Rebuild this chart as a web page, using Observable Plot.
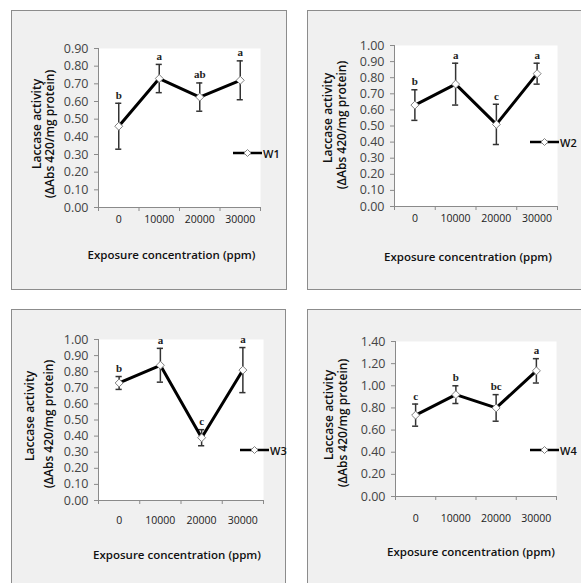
<!DOCTYPE html>
<html><head><meta charset="utf-8">
<script src="https://cdn.jsdelivr.net/npm/d3@7"></script>
<script src="https://cdn.jsdelivr.net/npm/@observablehq/plot@0.6"></script>
<style>
html,body{margin:0;padding:0;background:#fff;overflow:hidden;width:581px;height:583px;position:relative;}
.panel{position:absolute;box-sizing:border-box;border:1px solid #8c8c8c;background:#f0f0f0;overflow:hidden;}
.panel svg{display:block;}
.legend{position:absolute;display:flex;align-items:center;font:600 11px "Open Sans";color:#111;white-space:nowrap;}
</style></head><body>
<script>
// ---- data ----
const categories = ["0", "10000", "20000", "30000"];
const seriesNames = ["W1", "W2", "W3", "W4"];
const w1Mean = [0.46, 0.73, 0.625, 0.72];
const w1Err = [0.13, 0.08, 0.08, 0.11];
const w1Letters = ["b", "a", "ab", "a"];
const w2Mean = [0.63, 0.76, 0.51, 0.825];
const w2Err = [0.095, 0.13, 0.125, 0.065];
const w2Letters = ["b", "a", "c", "a"];
const w3Mean = [0.73, 0.84, 0.39, 0.81];
const w3Err = [0.04, 0.105, 0.05, 0.14];
const w3Letters = ["b", "a", "c", "a"];
const w4Mean = [0.735, 0.92, 0.80, 1.135];
const w4Err = [0.10, 0.08, 0.12, 0.11];
const w4Letters = ["c", "b", "bc", "a"];
const yMax = [0.9, 1.0, 1.0, 1.4];
const yStep = [0.1, 0.1, 0.1, 0.2];
const yLabel1 = "Laccase activity";
const yLabel2 = "(\u0394Abs 420/mg protein)";
const xLabel = "Exposure concentration (ppm)";

const means = [w1Mean, w2Mean, w3Mean, w4Mean];
const errs = [w1Err, w2Err, w3Err, w4Err];
const letters = [w1Letters, w2Letters, w3Letters, w4Letters];

// ---- layout (pixels) ----
const layout = [
  {box:{x:11,y:10,w:276,h:280}, plot:{l:98,t:48,r:260,b:207}, tickDy:8, titleDy:48, titleDx:-8, yl1:61, yl2:48, yd1:-4, yd2:6, leg:{x:233,y:153}},
  {box:{x:307,y:10,w:276,h:280}, plot:{l:394,t:45,r:557,b:206}, tickDy:8, titleDy:51, titleDx:-8, yl1:66, yl2:52, yd1:-8, yd2:-1, leg:{x:530,y:142}},
  {box:{x:11,y:309,w:275,h:285}, plot:{l:98,t:339,r:263,b:500}, tickDy:16, titleDy:55, titleDx:-4, yl1:68, yl2:49, yd1:-4, yd2:4, leg:{x:240,y:450}},
  {box:{x:307,y:309,w:276,h:285}, plot:{l:395,t:341,r:556,b:496}, tickDy:18, titleDy:56, titleDx:-5, yl1:66, yl2:52, yd1:-4, yd2:4, leg:{x:530,y:450}}
];

layout.forEach((L, k) => {
  const data = categories.map((c, i) => ({i, cat: c, v: means[k][i], e: errs[k][i], lab: letters[k][i]}));
  const n = categories.length;
  const bounds = d3.range(n + 1).map(i => i - 0.5);
  const nt = Math.round(yMax[k] / yStep[k]);
  const yTicks = d3.range(nt + 1).map(j => +(j * yStep[k]).toFixed(2));
  const W = L.box.w - 2, H = L.box.h - 2;
  const ox = L.box.x + 1, oy = L.box.y + 1;
  const cap = 0.075;
  const chart = Plot.plot({
    width: W, height: H,
    marginLeft: L.plot.l - ox, marginTop: L.plot.t - oy,
    marginRight: ox + W - L.plot.r, marginBottom: oy + H - L.plot.b,
    style: {background: "#f0f0f0", fontFamily: "Open Sans", overflow: "visible"},
    x: {domain: [bounds[0], bounds[n]], axis: null},
    y: {domain: [0, yMax[k]], axis: null},
    marks: [
      Plot.frame({fill: "white", stroke: "none"}),
      Plot.ruleY([0], {stroke: "#8a8a8a"}),
      Plot.ruleX([bounds[0]], {stroke: "#8a8a8a"}),
      Plot.axisY({ticks: yTicks, tickFormat: d3.format(".2f"), tickSize: 4, tickPadding: 6, stroke: "#8a8a8a", fill: "#444", fontSize: 12.5, label: null}),
      Plot.axisX({ticks: bounds, tickFormat: () => "", tickSize: 4, stroke: "#8a8a8a", label: null}),
      Plot.axisX({ticks: d3.range(n), tickFormat: i => categories[i], tickSize: 0, tickPadding: L.tickDy, fill: "#222", fontSize: 10.5, label: null}),
      Plot.text([yLabel1], {frameAnchor: "left", textAnchor: "middle", rotate: -90, dx: -L.yl1, dy: L.yd1, fontSize: 12, fontWeight: 600, fill: "#111"}),
      Plot.text([yLabel2], {frameAnchor: "left", textAnchor: "middle", rotate: -90, dx: -L.yl2, dy: L.yd2, fontSize: 12, fontWeight: 600, fill: "#111"}),
      Plot.text([xLabel], {frameAnchor: "bottom", lineAnchor: "middle", dy: L.titleDy, dx: L.titleDx, fontSize: 11.5, fontWeight: 600, fill: "#111"}),
      Plot.ruleX(data, {x: "i", y1: d => d.v - d.e, y2: d => d.v + d.e, stroke: "#333", strokeWidth: 1.5}),
      Plot.ruleY(data, {x1: d => d.i - cap, x2: d => d.i + cap, y: d => d.v + d.e, stroke: "#333", strokeWidth: 1.5}),
      Plot.ruleY(data, {x1: d => d.i - cap, x2: d => d.i + cap, y: d => d.v - d.e, stroke: "#333", strokeWidth: 1.5}),
      Plot.line(data, {x: "i", y: "v", stroke: "#000", strokeWidth: 3}),
      Plot.dot(data, {x: "i", y: "v", symbol: "diamond2", r: 3.6, fill: "white", stroke: "#808080", strokeWidth: 1}),
      Plot.text(data, {x: "i", y: d => d.v + d.e, text: "lab", dy: -8, fontFamily: "Liberation Serif", fontWeight: "bold", fontSize: 11, fill: "#222"})
    ]
  });
  const div = document.createElement("div");
  div.className = "panel";
  div.style.left = L.box.x + "px"; div.style.top = L.box.y + "px";
  div.style.width = L.box.w + "px"; div.style.height = L.box.h + "px";
  div.appendChild(chart);
  document.body.appendChild(div);

  const leg = document.createElement("div");
  leg.className = "legend";
  leg.style.left = L.leg.x + "px"; leg.style.top = (L.leg.y - 8) + "px"; leg.style.height = "16px";
  leg.innerHTML = `<svg width="29" height="12" style="display:block"><line x1="0" y1="6" x2="29" y2="6" stroke="#000" stroke-width="2.5"/><path d="M14.5,2.5 L18,6 L14.5,9.5 L11,6 Z" fill="white" stroke="#808080" stroke-width="1"/></svg><span style="margin-left:1px">${seriesNames[k]}</span>`;
  document.body.appendChild(leg);
});
</script>
</body></html>
